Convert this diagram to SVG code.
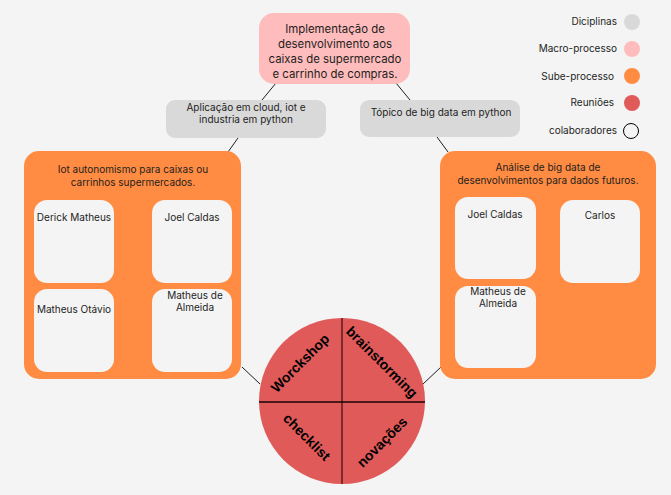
<svg xmlns="http://www.w3.org/2000/svg" width="671" height="495" viewBox="0 0 671 495">
<style>
text{font-family:Inter,"Liberation Sans",sans-serif;fill:#1e1e1e}
.t{font-size:10px}
.m{font-size:11.4px}
.c{text-anchor:middle}
.r{text-anchor:end}
.card{fill:#f4f4f4}
.sub{fill:#ff8c42}
.gray{fill:#d9d9d9}
.conn line{stroke:#1e1e1e;stroke-width:1}
.w{font-family:"Liberation Sans",Arial,sans-serif;font-weight:bold;font-size:14px;fill:#000;text-anchor:middle}
</style>
<rect width="671" height="495" fill="#f4f4f4"/>
<g id="connectors" class="conn">
<line x1="276" y1="83" x2="262" y2="100"/>
<line x1="396" y1="83" x2="410" y2="100"/>
<line x1="238" y1="138" x2="228" y2="152"/>
<line x1="437" y1="137" x2="448" y2="152"/>
<line x1="242" y1="367" x2="260" y2="384"/>
<line x1="441" y1="367" x2="423" y2="384"/>
</g>
<g id="macro">
<rect x="259" y="13" width="151" height="71" rx="15" fill="#ffbcbc"/>
<text class="m c" x="335" y="33">Implementação de</text>
<text class="m c" x="335" y="48">desenvolvimento aos</text>
<text class="m c" x="335" y="63">caixas de supermercado</text>
<text class="m c" x="335" y="78">e carrinho de compras.</text>
</g>
<g id="disc-left">
<rect class="gray" x="166" y="100" width="160" height="38" rx="9"/>
<text class="t c" x="246" y="111">Aplicação em cloud, iot e</text>
<text class="t c" x="246" y="123">industria em python</text>
</g>
<g id="disc-right">
<rect class="gray" x="360" y="100" width="160" height="37" rx="9"/>
<text class="t c" x="441" y="116">Tópico de big data em python</text>
</g>
<g id="sub-left">
<rect class="sub" x="24" y="151" width="217" height="228" rx="15"/>
<text class="t c" x="133" y="173">Iot autonomismo para caixas ou</text>
<text class="t c" x="133" y="186">carrinhos supermercados.</text>
</g>
<g id="card-derick">
<rect class="card" x="34" y="200" width="80" height="83" rx="13"/>
<text class="t c" x="74" y="221">Derick Matheus</text>
</g>
<g id="card-joel-l">
<rect class="card" x="152" y="200" width="80" height="83" rx="13"/>
<text class="t c" x="192" y="221">Joel Caldas</text>
</g>
<g id="card-otavio">
<rect class="card" x="34" y="289" width="80" height="83" rx="13"/>
<text class="t c" x="74" y="313">Matheus Otávio</text>
</g>
<g id="card-almeida-l">
<rect class="card" x="152" y="289" width="80" height="83" rx="13"/>
<text class="t c" x="195" y="299">Matheus de</text>
<text class="t c" x="195" y="311">Almeida</text>
</g>
<g id="sub-right">
<rect class="sub" x="440" y="151" width="216" height="228" rx="15"/>
<text class="t c" x="548" y="171">Análise de big data de</text>
<text class="t c" x="548" y="184">desenvolvimentos para dados futuros.</text>
</g>
<g id="card-joel-r">
<rect class="card" x="455" y="197" width="81" height="82" rx="13"/>
<text class="t c" x="495" y="218">Joel Caldas</text>
</g>
<g id="card-carlos">
<rect class="card" x="560" y="200" width="80" height="83" rx="13"/>
<text class="t c" x="600" y="219">Carlos</text>
</g>
<g id="card-almeida-r">
<rect class="card" x="455" y="286" width="81" height="82" rx="13"/>
<text class="t c" x="498" y="295">Matheus de</text>
<text class="t c" x="498" y="307">Almeida</text>
</g>
<g id="meetings">
<circle cx="342" cy="401" r="83" fill="#e05a5a"/>
<line x1="342" y1="318" x2="342" y2="484" stroke="#3a0d0d" stroke-width="1.2"/>
<line x1="259" y1="402" x2="425" y2="402" stroke="#1a0505" stroke-width="1.5"/>
<text class="w" transform="translate(300,363) rotate(-45)" y="5">Worckshop</text>
<text class="w" transform="translate(382,362) rotate(45)" y="5">brainstorming</text>
<text class="w" transform="translate(307,437) rotate(45)" y="5">checklist</text>
<text class="w" transform="translate(382,442) rotate(-45)" y="5">novações</text>
</g>
<g id="legend">
<text class="t r" x="617" y="25">Diciplinas</text>
<circle cx="632" cy="22" r="8" fill="#d9d9d9"/>
<text class="t r" x="617" y="52">Macro-processo</text>
<circle cx="632" cy="49" r="8" fill="#ffbcbc"/>
<text class="t r" x="614" y="80">Sube-processo</text>
<circle cx="632" cy="76" r="8" fill="#ff8c42"/>
<text class="t r" x="614" y="106">Reuniões</text>
<circle cx="632" cy="103" r="8" fill="#e05a5a"/>
<text class="t r" x="617" y="134">colaboradores</text>
<circle cx="631" cy="131" r="7.5" fill="none" stroke="#000" stroke-width="1"/>
</g>
</svg>
